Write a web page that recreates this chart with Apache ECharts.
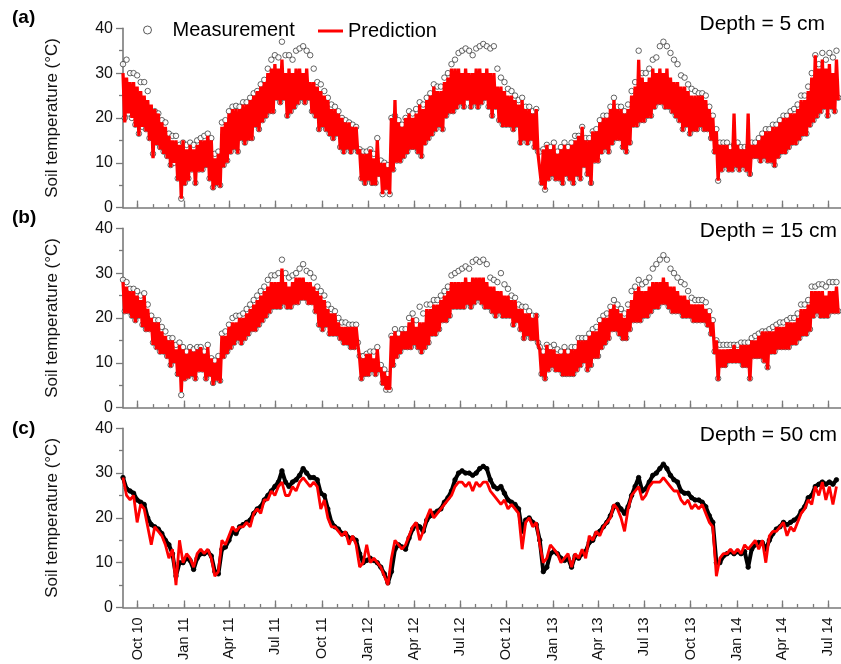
<!DOCTYPE html>
<html>
<head>
<meta charset="utf-8">
<script src="https://cdn.jsdelivr.net/npm/echarts@6/dist/echarts.min.js"></script>
<style>
  html, body { margin: 0; padding: 0; background: #fff; }
  #chart { width: 841px; height: 664px; }
</style>
</head>
<body>
<div id="chart"></div>
<script>
// Soil temperature: measured vs predicted at three depths, weekly envelope values
// (hi = daytime peak at the start of each week, lo = night-time low mid-week)
const startDate = '2010-09-02';
const axisEndDate = '2014-07-26';
const stepDays = 7;

const quarterDates = ['2010-10-01','2011-01-01','2011-04-01','2011-07-01','2011-10-01','2012-01-01',
  '2012-04-01','2012-07-01','2012-10-01','2013-01-01','2013-04-01','2013-07-01','2013-10-01',
  '2014-01-01','2014-04-01','2014-07-01'];
const quarterLabels = ['Oct 10','Jan 11','Apr 11','Jul 11','Oct 11','Jan 12','Apr 12','Jul 12',
  'Oct 12','Jan 13','Apr 13','Jul 13','Oct 13','Jan 14','Apr 14','Jul 14'];
const yTicks = [0, 10, 20, 30, 40];
const depthLabels = ['Depth = 5 cm', 'Depth = 15 cm', 'Depth = 50 cm'];
const panelLetters = ['(a)', '(b)', '(c)'];

// ---- 5 cm ----
const pred5Hi = [
  30,29,28,28,27,26,25,24,23,22, 21,19,18,16,15,15,14,15,13,14,
  13,14,15,15,16,15,11,12,18,19, 21,22,22,22,23,23,24,25,26,27,
  28,30,31,32,31,33,30,31,30,31, 31,30,31,28,28,27,26,25,24,22,
  22,21,20,19,19,18,18,13,12,12, 13,11,15,10,10,9,20,24,19,18,
  20,21,20,21,23,22,24,25,27,26, 26,28,29,31,31,31,30,31,30,30,
  31,31,30,31,30,30,27,27,26,25, 25,24,23,24,22,22,21,22,12,13,
  14,13,14,12,13,14,13,14,15,16, 18,15,15,17,17,19,20,20,22,24,
  22,22,21,22,25,27,33,29,28,29, 31,30,31,30,31,29,28,28,27,27,
  26,25,25,25,25,24,22,20,17,14, 14,14,13,21,14,13,13,21,14,14,
  15,16,17,17,18,18,19,20,20,21, 21,22,24,24,26,29,34,31,33,31,
  32,30,33];
const pred5Lo = [
  19,21,20,18,16,18,17,15,11,14, 13,12,11,9,10,6,2,5,6,8,
  5,8,8,9,6,4,5,4.5,9,10, 12,13,12,15,14,15,15,18,17,19,
  20,21,21,24,23,24,20,21,22,23, 24,23,24,21,20,17,18,17,16,15,
  16,13,12,13,12,13,12,6,5,6, 5,5,7,3,4,3,8,10,10,11,
  12,13,13,12,11,14,15,16,17,18, 17,20,21,21,22,23,22,24,22,23,
  22,23,24,22,20,22,19,18,18,18, 17,18,14,15,14,15,13,12,5,4,
  6,7,6,6,5,7,6,5,7,6, 9,7,5,10,10,12,13,12,14,15,
  15,13,12,14,18,18,19,19,20,20, 22,23,23,22,22,21,20,19,17,18,
  16,17,17,18,17,17,15,12,6,8, 9,8,8,9,8,9,8,7,11,11,
  10,11,10,10,9,11,12,12,13,14, 14,15,16,16,18,19,20,21,22,20,
  22,21,24];
const meas5Hi = [
  32,33,30,30,29.5,28,28,26,21,21.5, 21,19.5,19,16.5,16,16,14,14.5,14,14.5,
  14,15,15.5,16,16.5,15.5,12,12.5,19,19.5, 21.5,22.5,22.7,22.5,23.5,23.5,24.5,25.5,26,27.5,
  28.5,31,33,34,33.5,37,34,34,33,35, 35.5,36,35,34,31,28,27.5,26,24.5,23,
  22.5,21.5,20,19.5,19,18.5,18,13,12.5,12.5, 13,12,15.5,10.5,10,9.5,20,20.5,19.5,18.5,
  20,21.5,21,22,23.5,23,24.5,25.5,27.5,27, 27,29,30,32,33,34.5,35,35.5,35,34,
  35.5,36,36.5,36,35.5,36,31,29,28,26.5, 26,25,24,24.5,22.5,22.5,21.5,22,12.5,13,
  14,13.5,14.5,12.5,13.5,14.5,13.5,14.5,16,16, 18,15.5,15.5,17,17.5,19.5,20.5,20.5,22.5,24.5,
  22.5,22.5,21.5,23,26,28,35,30,30,31, 33,33.5,36,37,36,34.5,33,32,29.5,29,
  27.5,26.5,26,25.5,25.5,25,22.5,20.5,17.5,14.5, 14.5,14.5,13.5,14,14.5,13.5,13.5,13.5,14.5,14.5,
  15.5,16.5,17.5,17.5,18.5,18.5,19.5,20.5,20.5,21.5, 22,23,25,25,27,30,34,32,34.5,33,
  34.5,33.5,35];
const meas5Lo = [
  20,21,20,18.5,16.5,18,17.5,15.5,12,14.5, 13.5,12.5,11.5,9.5,10,6.5,2,5.5,6.5,8.5,
  5.5,8.5,8.5,9.5,6.5,4.5,5.5,5,9.5,10.5, 12.5,13.5,12.5,15.5,14.5,15.5,15.5,18.5,17.5,19.5,
  20.5,21.5,21.5,24.5,23.5,24.5,20.5,21.5,22.5,23.5, 24.5,23.5,24.5,21.5,20.5,17.5,18.5,17.5,16.5,15.5,
  16.5,13.5,12.5,13.5,12.5,13.5,12.5,6.5,5.5,6.5, 5.5,5.5,7.5,3,4.5,3,8.5,10.5,10.5,11.5,
  12.5,13.5,13.5,12.5,11.5,14.5,15.5,16.5,17.5,18.5, 17.5,20.5,21.5,21.5,22.5,23.5,22.5,24.5,22.5,23.5,
  22.5,23.5,24.5,22.5,20.5,22.5,19.5,18.5,18.5,18.5, 17.5,18.5,14.5,15.5,14.5,15.5,13.5,12.5,5.5,4,
  6.5,7.5,6.5,6.5,5.5,7.5,6.5,5.5,7.5,6.5, 9.5,7.5,5.5,10.5,10.5,12.5,13.5,12.5,14.5,15.5,
  15.5,13.5,12.5,14.5,18.5,18.5,19.5,19.5,20.5,20.5, 22.5,23.5,23.5,22.5,22.5,21.5,20.5,19.5,17.5,18.5,
  16.5,17.5,17.5,18.5,17.5,17.5,15.5,12.5,6,8.5, 9.5,8.5,8.5,9.5,8.5,9.5,8.5,7.5,11.5,11.5,
  10.5,11.5,10.5,10.5,9.5,11.5,12.5,12.5,13.5,14.5, 14.5,15.5,16.5,16.5,18.5,19.5,20.5,21.5,22.5,20.5,
  22.5,21.5,24.5];

// ---- 15 cm ----
const pred15Hi = [
  28,27,26,26,25,24,25,22,20,19, 19,17,16,15,15,13,14,13,12,13,
  12.5,13,13.5,12,13.5,11,10,11,16,16, 18,19,19,20,20,21,22,23,24,25,
  26,27,28,28,28,31,28,27,28,29, 29,29,28,28,27,26,25,24,22,21,
  21,19,18,18,18,18,18,11,11,12, 12,11,13,9,8,7,16,17,16,17,
  17,19,20,18,19,19,22,22,23,23, 24,25,26,28,28,28,28,29,28,29,
  29,29,29,28,27,27,26,26,25,25, 24,24,22,22,21,21,20,21,13,12,
  14,13,13,12,12,13,12,13,13,15, 15,15,16,17,17,19,20,20,22,23,
  22,21,20,22,24,26,27,26,26,27, 28,28,28,29,28,27,27,26,25,25,
  24,23,23,23,23,22,21,19,15,13, 13,13,13,14,13,14,14,14,15,15,
  16,17,17,17,17,18,18,18,19,19, 19,20,22,22,23,26,26,26,26,25,
  26,26,27];
const pred15Lo = [
  21,21,20,19,20,18,17,17,14,13, 12,12,11,9,10,7,3.5,6,6.5,7,
  6,8,8,6,7,5,6,5.5,11,12, 13,14,15,14,15,16,17,17,18,19,
  20,21,22,22,22,23,22,22,23,23, 24,24,23,23,21,18,17,18,16,16,
  16,15,14,14,13,13,14,6,7,7, 8,7,8,5,4,4,9,11,12,13,
  13,13,14,13,12,13,14,16,16,17, 19,19,20,22,22,22,22,23,22,23,
  24,23,22,22,21,20,21,20,20,20, 18,19,17,15,16,15,15,14,7,6,
  8,9,8,8,7,7,7,7,8,9, 10,8,9,11,11,13,14,15,17,17,
  16,15,15,17,19,19,19,20,20,21, 22,22,23,23,22,21,21,21,20,20,
  20,19,19,19,19,18,16,12,6,9, 9,10,10,10,10,9,9,6,11,11,
  11,10,8.5,12,12,13,13,13,13,14, 14,15,16,16,17,20,21,20,20,20,
  21,21,21];
const meas15Hi = [
  28.5,28,26.5,26.5,26,25,25.5,23,20.5,19.5, 19.5,18,17,15.5,15.5,14,14.5,13.5,12.5,13.5,
  13,13.5,13.5,12.5,14,11,10.5,11.5,16.5,17, 18.5,20,20.5,20.5,21,22,23,24,25,26,
  27,28.5,29.5,29.5,30,33,30,29,29.5,30, 31,32,30.5,30,29,27,26,25,23,22,
  21.5,20,19,19,18.5,18.5,18.5,11.5,11.5,12, 12.5,12.5,13.5,9.5,8.5,7.5,16,17.5,16.5,17.5,
  17.5,20,21,19.5,22.5,21,23,23,24,24, 25,26,27,29.5,30,30.5,31,31.5,31,32.5,
  33,32.5,33,32,29,28.5,28,30,27.5,26.5, 25,24.5,23,22.5,22.5,21.5,20.5,20.5,13.5,12.5,
  14,13.5,14,13,12.5,13.5,12.5,13.5,13.5,15.5, 15.5,15.5,16.5,17.5,18,19.5,20.5,21,22.5,24,
  23,22,21,23,26,27,28.5,27.5,28,29, 31,32,33,34,33,31,30,29,28,27.5,
  26,24.5,24,24,24,23.5,21.5,19.5,15,14, 14,14,14,14,14,14.5,14.5,14.5,15.5,16,
  16.5,17,17,17.5,18,18.5,19,19,19.5,20, 20,21,23,23,24,27,27,27.5,27.5,27,
  28,28,28];
const meas15Lo = [
  21.5,21.5,20.5,19.5,20.5,18.5,17.5,17.5,14.5,13.5, 12.5,12.5,11.5,9.5,10.5,7.5,2.8,6.5,7,7.5,
  6.5,8.5,8.5,6.5,7.5,5.5,6.5,6,11.5,12.5, 13.5,14.5,15.5,14.5,15.5,16.5,17.5,17.5,18.5,19.5,
  20.5,21.5,22.5,22.5,22.5,23.5,22.5,22.5,23.5,23.5, 24.5,24.5,23.5,23.5,21.5,18.5,17.5,18.5,16.5,16.5,
  16.5,15.5,14.5,14.5,13.5,13.5,14.5,6.5,7.5,7.5, 8.5,7.5,8.5,5.5,4,4,9.5,11.5,12.5,13.5,
  13.5,13.5,14.5,13.5,12.5,13.5,14.5,16.5,16.5,17.5, 19.5,19.5,20.5,22.5,22.5,22.5,22.5,23.5,22.5,23.5,
  24.5,23.5,22.5,22.5,21.5,20.5,21.5,20.5,20.5,20.5, 18.5,19.5,17.5,15.5,16.5,15.5,15.5,14.5,7.5,6.5,
  8.5,9.5,8.5,8.5,7.5,7.5,7.5,7.5,8.5,9.5, 10.5,8.5,9.5,11.5,11.5,13.5,14.5,15.5,17.5,17.5,
  16.5,15.5,15.5,17.5,19.5,19.5,19.5,20.5,20.5,21.5, 22.5,22.5,23.5,23.5,22.5,21.5,21.5,21.5,20.5,20.5,
  20.5,19.5,19.5,19.5,19.5,18.5,16.5,12.5,6.5,9.5, 9.5,10.5,10.5,10.5,10.5,9.5,9.5,6.5,11.5,11.5,
  11.5,10.5,9,12.5,12.5,13.5,13.5,13.5,13.5,14.5, 14.5,15.5,16.5,16.5,17.5,20.5,21.5,20.5,20.5,20.5,
  21.5,21.5,21.5];

// ---- 50 cm (weekly values, diurnal swing is negligible) ----
const pred50 = [
  29,25,24,25,19,23,22,18,14,18, 17,16,14,11,13,5,15,10,12,11,
  9,12,13,12,13,11,7,8,15,14, 16,18,17,18,18,19,18,21,22,21,
  24,24,26,25,27,28,25,25,27,26, 28,29,28,27,28,27,22,24,20,18,
  18,17,16,17,14,16,14,9,10,14, 10,11,10,9,7,5,11,15,14,13,
  14,16,18,19,15,17,20,22,20,21, 22,23,24,25,27,28,28,27,28,26,
  28,27,28,28,26,25,24,23,24,22, 23,22,21,13,19,20,18,19,14,10,
  11,14,13,12,10,11,12,9,12,11, 13,11,16,15,17,16,18,19,20,23,
  22,20,17,22,25,26,27,24,25,27, 28,28,28,29,28,27,26,26,24,23,
  24,22,23,22,23,21,19,18,7,11, 12,12,13,12,13,12,14,13,14,15,
  13,15,10,16,17,17,18,19,16,18, 17,19,21,22,24,23,27,25,28,24,
  27,23,27];
const meas50 = [
  29,26.5,26,25.5,24,23.5,23,20,18.5,18, 17.5,16.5,15,14,12,7,10,10,11,10.5,
  8.5,11,12,12,12.5,11.5,8,7.5,13,13.5, 15,17,16.5,18,18.5,19,19.5,21,22,22.5,
  24,25,26,27,28,30.5,28,27,28,28.5, 29.5,31,30,29,29,28.5,25.5,25,22,19,
  18,17.5,16.5,16.5,15.5,15.5,15,12,10,10.5, 11,10.5,10,9,7.5,5.5,8,13,14,13.5,
  13,15.5,17.5,18.5,18,17,19.5,20.5,21,21.5, 22,23.5,24.5,26,28.5,30,30.5,30,30,29.5,
  30,31,31.5,31,28.5,27,26.5,27,25.5,24, 23.5,23,22,17,19.5,20,19,18.5,15,8,
  9,12,12.5,12,11,10.5,11,9,11.5,11, 12,12.5,14.5,15,16.5,17,18,19,20.5,22.5,
  23,22,21,22.5,25,27,29,26,26.5,28, 29.5,30,31,32,31,29.5,28.5,28,26,25.5,
  25.5,24.5,24,24,23.5,22.5,20.5,19,10,10, 11.5,12,12.5,12,12.5,12,12.5,9,13,14,
  14.5,14.5,13,15,16.5,17.5,18,19,18.5,19, 19.5,20,21.5,22.5,24.5,25,27,27.5,28,27.5,
  28,27.5,28.5];

// ---------------------------------------------------------------
const DAY = 86400000;
const t0 = Date.parse(startDate + 'T00:00:00Z');
const dayOf = s => Math.round((Date.parse(s + 'T00:00:00Z') - t0) / DAY);
const axisMax = dayOf(axisEndDate);

const quarterTicks = quarterDates.map(dayOf);
const labelByDay = {};
quarterTicks.forEach((d, i) => { labelByDay[d] = quarterLabels[i]; });

// month starts inside the axis range
const monthTicks = [];
for (let y = 2010, m = 9; ; ) {
  const d = Math.round((Date.UTC(y, m, 1) - t0) / DAY);
  if (d > axisMax) break;
  monthTicks.push(d);
  m++; if (m > 11) { m = 0; y++; }
}

// daytime high at the start of each week, night low half a week later
function zigzag(hi, lo) {
  const out = [];
  hi.forEach((v, i) => {
    out.push([i * stepDays, v]);
    out.push([i * stepDays + stepDays / 2, lo[i]]);
  });
  return out;
}
const weekly = vals => vals.map((v, i) => [i * stepDays, v]);

const FONT = '"Liberation Sans", Arial, Helvetica, sans-serif';
const AXIS_COLOR = '#7a7a7a';
const TEXT_COLOR = '#111';

const panelTops = [28.3, 228.3, 428.3];
const panelHeight = 179.3;
const plotLeft = 123;
const plotWidth = 718;

const grid = panelTops.map(t => ({ left: plotLeft, top: t, width: plotWidth, height: panelHeight }));

const xAxis = [];
panelTops.forEach((t, k) => {
  const isBottom = k === panelTops.length - 1;
  // monthly ticks + axis line
  xAxis.push({
    type: 'value', gridIndex: k, min: 0, max: axisMax, position: 'bottom',
    axisLine: { show: true, onZero: false, lineStyle: { color: AXIS_COLOR, width: 1.6 } },
    axisTick: { show: true, inside: true, length: 3.5, customValues: monthTicks,
      lineStyle: { color: AXIS_COLOR, width: 1.3 } },
    axisLabel: { show: false },
    splitLine: { show: false }
  });
  // quarterly ticks (+ labels on the lowest panel)
  xAxis.push({
    type: 'value', gridIndex: k, min: 0, max: axisMax, position: 'bottom',
    axisLine: { show: false },
    axisTick: { show: true, inside: true, length: 7, customValues: quarterTicks,
      lineStyle: { color: AXIS_COLOR, width: 1.3 } },
    axisLabel: {
      show: isBottom, customValues: quarterTicks, rotate: 90, margin: 10,
      fontSize: 14.5, fontFamily: FONT, color: TEXT_COLOR,
      formatter: v => labelByDay[Math.round(v)] || ''
    },
    splitLine: { show: false }
  });
});

const yAxis = panelTops.map((t, k) => ({
  type: 'value', gridIndex: k, min: yTicks[0], max: yTicks[yTicks.length - 1], interval: 10,
  name: 'Soil temperature (°C)', nameLocation: 'middle', nameGap: 62,
  nameTextStyle: { fontSize: 17, fontFamily: FONT, color: TEXT_COLOR },
  axisLine: { show: true, lineStyle: { color: AXIS_COLOR, width: 1.6 } },
  axisTick: { show: true, inside: false, length: 7, lineStyle: { color: AXIS_COLOR, width: 1.3 } },
  minorTick: { show: true, splitNumber: 2, length: 4, lineStyle: { color: AXIS_COLOR, width: 1.3 } },
  axisLabel: { fontSize: 16, fontFamily: FONT, color: TEXT_COLOR, margin: 10 },
  splitLine: { show: false }
}));

const measCircle = {
  type: 'scatter', name: 'Measurement', symbol: 'circle', symbolSize: 5.5,
  itemStyle: { color: '#ffffff', borderColor: '#2a2a2a', borderWidth: 0.9 },
  z: 2
};
const predLine = {
  type: 'line', name: 'Prediction', showSymbol: false, symbol: 'none',
  lineStyle: { color: '#ff0000', width: 3.3, join: 'bevel' }, itemStyle: { color: '#ff0000' },
  z: 3
};

const series = [
  Object.assign({}, measCircle, { xAxisIndex: 0, yAxisIndex: 0, data: zigzag(meas5Hi, meas5Lo) }),
  Object.assign({}, predLine, { xAxisIndex: 0, yAxisIndex: 0, data: zigzag(pred5Hi, pred5Lo) }),
  Object.assign({}, measCircle, { xAxisIndex: 2, yAxisIndex: 1, data: zigzag(meas15Hi, meas15Lo) }),
  Object.assign({}, predLine, { xAxisIndex: 2, yAxisIndex: 1, data: zigzag(pred15Hi, pred15Lo) }),
  {
    type: 'line', name: 'Measurement', xAxisIndex: 4, yAxisIndex: 2, data: weekly(meas50),
    symbol: 'circle', symbolSize: 4.5, showSymbol: true,
    itemStyle: { color: '#000', borderColor: '#000', borderWidth: 0.8 },
    lineStyle: { color: '#000', width: 4 }, z: 2
  },
  Object.assign({}, predLine, { xAxisIndex: 4, yAxisIndex: 2, data: weekly(pred50),
    lineStyle: { color: '#ff0000', width: 2.8 } })
];

const graphic = [];
const letterY = [19.5, 219.5, 430];
panelLetters.forEach((txt, k) => {
  graphic.push({ type: 'text', left: 12, top: letterY[k] - 11,
    style: { text: txt, font: 'bold 19px ' + FONT, fill: '#000' } });
});
const depthRight = [825, 837, 837];
const depthY = [26, 233, 437];
depthLabels.forEach((txt, k) => {
  graphic.push({ type: 'text', right: 841 - depthRight[k], top: depthY[k] - 12,
    style: { text: txt, font: '21px ' + FONT, fill: '#000' } });
});

const chart = echarts.init(document.getElementById('chart'), null, { renderer: 'canvas' });
chart.setOption({
  animation: false,
  backgroundColor: '#ffffff',
  grid, xAxis, yAxis, series, graphic,
  legend: [
    {
      data: [{ name: 'Measurement', icon: 'circle',
        itemStyle: { color: '#ffffff', borderColor: '#333333', borderWidth: 1 } }],
      left: 143, top: 20, padding: 0, itemWidth: 20, itemHeight: 8, selectedMode: false,
      textStyle: { fontSize: 20, fontFamily: FONT, color: '#000', padding: [0, 0, 0, 10] }
    },
    {
      data: [{ name: 'Prediction', icon: 'rect', itemStyle: { color: '#ff0000' } }],
      left: 318, top: 21, padding: 0, itemWidth: 25, itemHeight: 3, selectedMode: false,
      textStyle: { fontSize: 20, fontFamily: FONT, color: '#000' }
    }
  ]
});
</script>
</body>
</html>
